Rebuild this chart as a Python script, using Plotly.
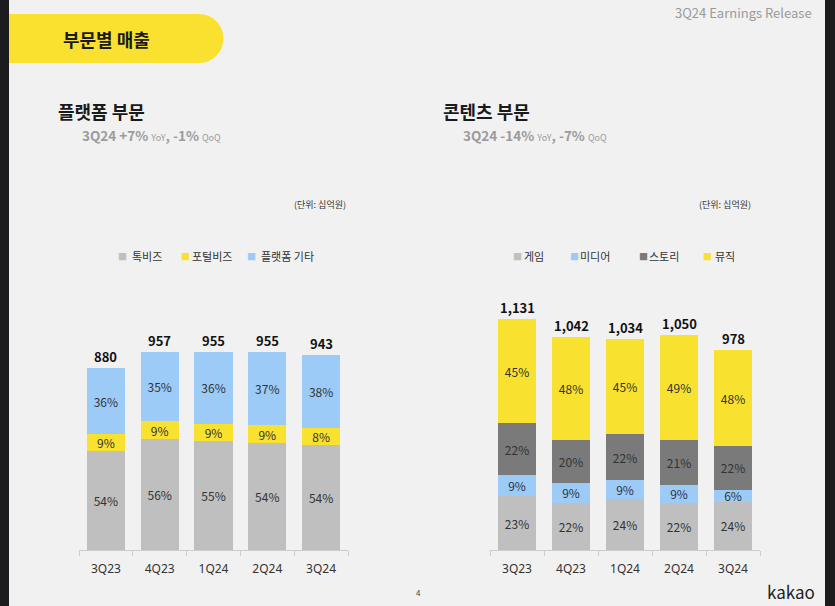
import plotly.graph_objects as go

W, H = 835, 606

quarters = ["3Q23", "4Q23", "1Q24", "2Q24", "3Q24"]

# Platform segment (KRW bn)
plat_totals = [880, 957, 955, 955, 943]
talkbiz = [476, 536, 525, 516, 508]
portalbiz = [83, 86, 86, 86, 79]
plat_other = [321, 335, 344, 353, 356]
talkbiz_pct = ["54%", "56%", "55%", "54%", "54%"]
portal_pct = ["9%", "9%", "9%", "9%", "8%"]
other_pct = ["36%", "35%", "36%", "37%", "38%"]

# Content segment (KRW bn)
cont_totals = [1131, 1042, 1034, 1050, 978]
game = [264, 232, 248, 228, 235]
media = [104, 96, 93, 92, 59]
story = [251, 211, 227, 217, 215]
music = [512, 503, 466, 513, 469]
game_pct = ["23%", "22%", "24%", "22%", "24%"]
media_pct = ["9%", "9%", "9%", "9%", "6%"]
story_pct = ["22%", "20%", "22%", "21%", "22%"]
music_pct = ["45%", "48%", "45%", "49%", "48%"]

C_GRAY = "#bfbfbf"
C_YEL = "#f9e12f"
C_BLUE = "#9ccbf8"
C_DARK = "#7a7a7a"
BG = "#f1f1f1"
FONT = "Noto Sans CJK KR, Noto Sans, sans-serif"


def px(x):
    return x / W


def py(y):
    return 1 - y / H


fig = go.Figure()


def add_bar(vals, labels, color, name, xa, ya):
    fig.add_trace(go.Bar(
        x=quarters, y=vals, text=labels, name=name,
        marker=dict(color=color, line=dict(width=0)),
        textposition="inside", insidetextanchor="middle",
        textangle=0, constraintext="none",
        textfont=dict(family=FONT, size=12, color="#333333"),
        xaxis=xa, yaxis=ya, showlegend=False, hoverinfo="skip",
    ))


add_bar(talkbiz, talkbiz_pct, C_GRAY, "톡비즈", "x", "y")
add_bar(portalbiz, portal_pct, C_YEL, "포털비즈", "x", "y")
add_bar(plat_other, other_pct, C_BLUE, "플랫폼 기타", "x", "y")

add_bar(game, game_pct, C_GRAY, "게임", "x2", "y2")
add_bar(media, media_pct, C_BLUE, "미디어", "x2", "y2")
add_bar(story, story_pct, C_DARK, "스토리", "x2", "y2")
add_bar(music, music_pct, C_YEL, "뮤직", "x2", "y2")

annotations = []

# totals
for q, t in zip(quarters, plat_totals):
    annotations.append(dict(x=q, y=t, xref="x", yref="y", text=f"<b>{t:,}</b>",
                            showarrow=False, yanchor="bottom", yshift=0,
                            font=dict(family=FONT, size=13, color="#111111")))
for q, t in zip(quarters, cont_totals):
    annotations.append(dict(x=q, y=t, xref="x2", yref="y2", text=f"<b>{t:,}</b>",
                            showarrow=False, yanchor="bottom", yshift=0,
                            font=dict(family=FONT, size=13, color="#111111")))


def txt(x, y, s, size, color="#222222", xanchor="left", bold=False):
    annotations.append(dict(x=px(x), y=py(y), xref="paper", yref="paper",
                            text=(f"<b>{s}</b>" if bold else s), showarrow=False,
                            xanchor=xanchor, yanchor="middle",
                            font=dict(family=FONT, size=size, color=color)))


# header
txt(106, 39, "부문별 매출", 18, "#1a1a1a", "center", True)
txt(814, 13, "3Q24 Earnings Release", 13, "#9a9a9a", "right")

# section titles
txt(56, 111, "플랫폼 부문", 18, "#1a1a1a", "left", True)
txt(80, 135, "<b>3Q24 +7%</b> <span style='font-size:9px'>YoY</span><b>, -1%</b> <span style='font-size:9px'>QoQ</span>",
    13.5, "#9b9b9b")
txt(441, 111, "콘텐츠 부문", 18, "#1a1a1a", "left", True)
txt(461, 135, "<b>3Q24 -14%</b> <span style='font-size:9px'>YoY</span><b>, -7%</b> <span style='font-size:9px'>QoQ</span>",
    13.5, "#9b9b9b")

# units
txt(348, 205, "(단위: 십억원)", 9, "#333333", "right")
txt(753, 205, "(단위: 십억원)", 9, "#333333", "right")

# legends (manual): (square centre x, text start x, label, colour)
leg_items = [
    (122, 130, "톡비즈", C_GRAY), (185, 190, "포털비즈", C_YEL), (251, 259, "플랫폼 기타", C_BLUE),
    (517, 522, "게임", C_GRAY), (574, 578, "미디어", C_BLUE), (643, 647, "스토리", C_DARK),
    (707, 713, "뮤직", C_YEL),
]
for sx, tx, s, c in leg_items:
    txt(sx, 256, "■", 9, c, "center")
    txt(tx, 256, s, 11, "#333333", "left")

# footer
txt(418, 592, "4", 8, "#444444", "center")
txt(817, 591, "kakao", 17, "#222222", "right")

shapes = [
    # dark borders
    dict(type="rect", xref="paper", yref="paper", x0=0, x1=px(9), y0=0, y1=1,
         fillcolor="#1c1c1e", line=dict(width=0), layer="above"),
    dict(type="rect", xref="paper", yref="paper", x0=px(825), x1=1, y0=0, y1=1,
         fillcolor="#1c1c1e", line=dict(width=0), layer="above"),
    # header pill
    dict(type="rect", xref="paper", yref="paper", x0=px(9), x1=px(199), y0=py(63), y1=py(14),
         fillcolor="#fbe12f", line=dict(width=0), layer="below"),
    dict(type="circle", xref="paper", yref="paper", x0=px(174.5), x1=px(223.5), y0=py(63), y1=py(14),
         fillcolor="#fbe12f", line=dict(width=0), layer="below"),
]

axis_x = dict(type="category", showgrid=False, zeroline=False, showline=True,
              linecolor="#cccccc", linewidth=1, ticks="outside", tickson="boundaries",
              ticklen=5, tickcolor="#cccccc", ticklabelstandoff=8,
              tickfont=dict(family="Noto Sans, sans-serif", size=12, color="#333333"),
              range=[-0.5, 4.5], fixedrange=True)
axis_y = dict(visible=False, showgrid=False, zeroline=False, fixedrange=True)

fig.update_layout(
    width=W, height=H, margin=dict(l=0, r=0, t=0, b=0),
    paper_bgcolor=BG, plot_bgcolor=BG,
    barmode="stack", bargap=0.29,
    font=dict(family=FONT),
    xaxis=dict(axis_x, domain=[px(79), px(348)], anchor="y"),
    yaxis=dict(axis_y, domain=[py(550), py(300)], range=[0, 250 / 0.207], anchor="x"),
    xaxis2=dict(axis_x, domain=[px(490), px(760)], anchor="y2"),
    yaxis2=dict(axis_y, domain=[py(550), py(300)], range=[0, 250 / 0.2044], anchor="x2"),
    annotations=annotations, shapes=shapes, showlegend=False,
)

fig.write_html("out.html", config={"displayModeBar": False})
